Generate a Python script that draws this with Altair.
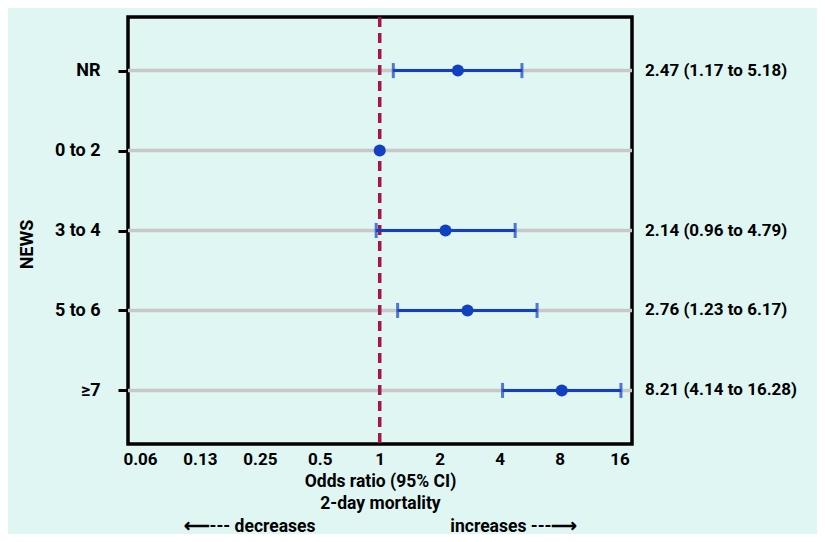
import altair as alt
import pandas as pd

# ---- data ----
categories = ["NR", "0 to 2", "3 to 4", "5 to 6", "≥7"]
odds_ratio = [2.47, 1.0, 2.14, 2.76, 8.21]
ci_lower = [1.17, None, 0.96, 1.23, 4.14]
ci_upper = [5.18, None, 4.79, 6.17, 16.28]
ci_text = ["2.47 (1.17 to 5.18)", "", "2.14 (0.96 to 4.79)",
           "2.76 (1.23 to 6.17)", "8.21 (4.14 to 16.28)"]
tick_values = [0.0625, 0.125, 0.25, 0.5, 1, 2, 4, 8, 16]
tick_labels = ["0.06", "0.13", "0.25", "0.5", "1", "2", "4", "8", "16"]
reference_value = [1]

df = pd.DataFrame({"cat": categories, "or": odds_ratio, "lo": ci_lower,
                   "hi": ci_upper, "txt": ci_text})
ci_df = df.dropna(subset=["lo", "hi"])
ref_df = pd.DataFrame({"v": reference_value})

W, H = 504, 427
FONT = "Roboto"
BLUE = "#1140c0"
BG = "#dff6f3"
NB = "\u00a0"

label_expr = " : ".join(
    f"datum.value == {v} ? '{l}'" for v, l in zip(tick_values, tick_labels)
) + " : ''"

x_scale = alt.Scale(type="log", base=2, domain=[0.0544, 18.5], nice=False)
y_scale = alt.Scale(type="point", domain=categories, padding=0.67)

y_enc = alt.Y(
    "cat:N", scale=y_scale,
    axis=alt.Axis(
        title="NEWS", titleFont=FONT, titleFontSize=18, titleFontWeight="bold",
        titleColor="black", titleAngle=-90, titleX=-101, titleY=227,
        titleAlign="center", titleBaseline="middle",
        labelFont=FONT, labelFontSize=18, labelFontWeight="bold",
        labelColor="black", labelPadding=18,
        domain=False, ticks=True, tickColor="black", tickWidth=3, tickSize=10,
        grid=False,
    ),
)

x_axis = alt.Axis(
    values=tick_values, labelExpr=label_expr,
    labelFont=FONT, labelFontSize=17, labelFontWeight="bold", labelColor="black",
    labelPadding=7, labelFlush=False, labelOverlap=False,
    ticks=False, domain=False, grid=False,
    title=["Odds ratio (95% CI)", "2-day mortality",
           "⟵--- decreases" + NB * 31 + "increases ---⟶"],
    titleFont=FONT, titleFontSize=17.5, titleFontWeight="bold", titleColor="black",
    titlePadding=5, titleLineHeight=22.5,
)

grid_lines = alt.Chart(df).mark_rule(color="#c8c8c8", strokeWidth=3.5).encode(y=y_enc)

ref_line = alt.Chart(ref_df).mark_rule(
    color="#a3174b", strokeWidth=3.5, strokeDash=[10, 6]
).encode(x=alt.X("v:Q", scale=x_scale, axis=x_axis))

ci_rule = alt.Chart(ci_df).mark_rule(color=BLUE, strokeWidth=3).encode(
    x=alt.X("lo:Q", scale=x_scale, axis=x_axis), x2="hi:Q", y=y_enc)

cap_lo = alt.Chart(ci_df).mark_tick(color=BLUE, thickness=3, size=15, orient="vertical").encode(
    x=alt.X("lo:Q", scale=x_scale, axis=x_axis), y=y_enc)
cap_hi = alt.Chart(ci_df).mark_tick(color=BLUE, thickness=3, size=15, orient="vertical").encode(
    x=alt.X("hi:Q", scale=x_scale, axis=x_axis), y=y_enc)

points = alt.Chart(df).mark_point(filled=True, opacity=1, color=BLUE, size=145).encode(
    x=alt.X("or:Q", scale=x_scale, axis=x_axis), y=y_enc)

texts = alt.Chart(df).mark_text(
    align="left", baseline="middle", font=FONT, fontSize=17, fontWeight="bold",
    color="black"
).encode(x=alt.value(W + 13), y=y_enc, text="txt:N")

chart = alt.layer(grid_lines, ref_line, ci_rule, cap_lo, cap_hi, points, texts).properties(
    width=W, height=H,
    background=BG,
    padding={"left": 120, "top": 9, "right": 185, "bottom": 90},
    autosize=alt.AutoSizeParams(type="none"),
).configure_view(stroke="black", strokeWidth=3.5)

chart.save("out.html", embed_options={"renderer": "svg", "actions": False})
